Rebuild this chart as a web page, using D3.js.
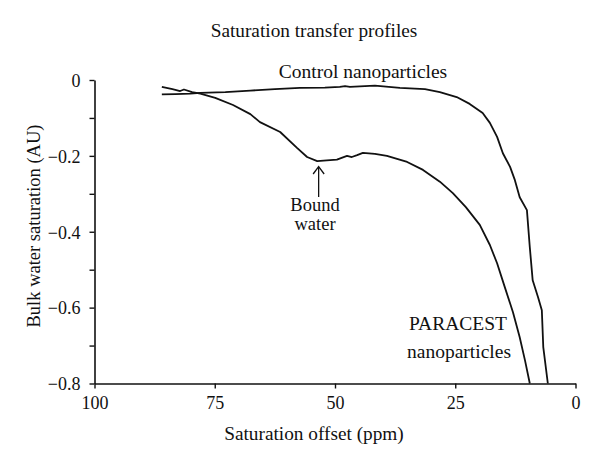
<!DOCTYPE html>
<html>
<head>
<meta charset="utf-8">
<script src="https://cdn.jsdelivr.net/npm/d3@7"></script>
<style>
  html, body { margin: 0; padding: 0; background: #fff; }
  svg text { font-family: "Liberation Serif", "Times New Roman", serif; fill: #111; }
</style>
</head>
<body>
<svg id="chart" width="600" height="466"></svg>
<script>
// ---- data ----
const title = "Saturation transfer profiles";
const xLabel = "Saturation offset (ppm)";
const yLabel = "Bulk water saturation (AU)";
const xTicks = [100, 75, 50, 25, 0];
const yMajorTicks = [0, -0.2, -0.4, -0.6, -0.8];
const yMinorTicks = [-0.1, -0.3, -0.5, -0.7];

const controlPpm = [86.0, 83.2, 80.1, 78.0, 72.8, 67.6, 62.5, 57.3, 52.1, 49.0, 47.9, 46.9, 41.7, 36.5, 31.3, 28.2, 24.7, 22.0, 19.3, 17.8, 16.3, 15.1, 13.6, 12.6, 11.6, 10.1, 9.5, 8.9, 7.8, 7.0, 6.7, 5.75];
const controlVal = [-0.038, -0.037, -0.036, -0.034, -0.032, -0.028, -0.024, -0.021, -0.020, -0.018, -0.016, -0.018, -0.015, -0.021, -0.024, -0.032, -0.045, -0.063, -0.087, -0.113, -0.150, -0.193, -0.229, -0.264, -0.309, -0.343, -0.441, -0.528, -0.572, -0.607, -0.704, -0.800];

const paracestPpm = [86.0, 83.8, 82.2, 81.4, 79.7, 78.0, 74.9, 71.2, 67.6, 65.6, 61.4, 57.9, 55.8, 53.7, 51.7, 49.6, 47.5, 46.5, 45.4, 44.2, 41.7, 39.2, 35.0, 31.7, 28.2, 25.5, 22.8, 19.9, 17.8, 16.3, 14.7, 13.0, 11.6, 10.5, 9.5];
const paracestVal = [-0.018, -0.024, -0.029, -0.025, -0.032, -0.036, -0.047, -0.066, -0.090, -0.111, -0.137, -0.179, -0.203, -0.214, -0.212, -0.210, -0.200, -0.203, -0.198, -0.192, -0.195, -0.200, -0.216, -0.237, -0.268, -0.298, -0.335, -0.382, -0.435, -0.483, -0.546, -0.612, -0.678, -0.739, -0.800];

const annotations = {
  control: "Control nanoparticles",
  bound: ["Bound", "water"],
  paracest: ["PARACEST", "nanoparticles"]
};

// ---- layout ----
const svg = d3.select("#chart");
const x = d3.scaleLinear().domain([100, 0]).range([94.5, 575.5]);
const y = d3.scaleLinear().domain([0, -0.8]).range([80, 383.5]);
const tickFs = 18;
const labelFs = 19.3;
const annFs = 19.5;

// title
svg.append("text").attr("x", 314).attr("y", 37).attr("text-anchor", "middle")
  .style("font-size", labelFs + "px").text(title);

// x axis
const xAxis = d3.axisBottom(x).tickValues(xTicks).tickSize(5).tickSizeOuter(0).tickFormat(d3.format("d"));
const gx = svg.append("g").attr("transform", `translate(0,${y(-0.8)})`).call(xAxis);
gx.select(".domain").attr("stroke", "#111").attr("stroke-width", 1.6);
gx.selectAll(".tick line").attr("stroke", "#111").attr("stroke-width", 1.4);
gx.selectAll(".tick text").attr("dy", null).attr("y", 25)
  .style("font-size", tickFs + "px").style("font-family", "Liberation Serif").attr("fill", "#111");

// y axis
const minus = v => v === 0 ? "0" : "\u2212" + d3.format(".1f")(-v);
const yAxis = d3.axisLeft(y).tickValues(yMajorTicks.concat(yMinorTicks)).tickSize(5).tickSizeOuter(0)
  .tickFormat(d => yMajorTicks.includes(d) ? minus(d) : "");
const gy = svg.append("g").attr("transform", `translate(${x(100)},0)`).call(yAxis);
gy.select(".domain").attr("stroke", "#111").attr("stroke-width", 1.6);
gy.selectAll(".tick line").attr("stroke", "#111").attr("stroke-width", 1.4);
gy.selectAll(".tick text").attr("x", -14).attr("dy", "0.35em")
  .style("font-size", tickFs + "px").style("font-family", "Liberation Serif").attr("fill", "#111");

// axis titles
svg.append("text").attr("x", 314).attr("y", 440).attr("text-anchor", "middle")
  .style("font-size", labelFs + "px").text(xLabel);
svg.append("text").attr("transform", "translate(40,226) rotate(-90)").attr("text-anchor", "middle")
  .style("font-size", "18.5px").text(yLabel);

// lines
const line = d3.line().x(d => x(d[0])).y(d => y(d[1]));
const controlData = controlPpm.map((p, i) => [p, controlVal[i]]);
const paracestData = paracestPpm.map((p, i) => [p, paracestVal[i]]);
svg.append("path").datum(controlData).attr("d", line)
  .attr("fill", "none").attr("stroke", "#111").attr("stroke-width", 1.8).attr("stroke-linejoin", "round");
svg.append("path").datum(paracestData).attr("d", line)
  .attr("fill", "none").attr("stroke", "#111").attr("stroke-width", 1.8).attr("stroke-linejoin", "round");

// annotations
svg.append("text").attr("x", 363).attr("y", 78).attr("text-anchor", "middle")
  .style("font-size", annFs + "px").text(annotations.control);
svg.append("text").attr("x", 315).attr("y", 211).attr("text-anchor", "middle")
  .style("font-size", "18.5px").text(annotations.bound[0]);
svg.append("text").attr("x", 315).attr("y", 230).attr("text-anchor", "middle")
  .style("font-size", "18.5px").text(annotations.bound[1]);
svg.append("text").attr("x", 458).attr("y", 330).attr("text-anchor", "middle")
  .style("font-size", annFs + "px").text(annotations.paracest[0]);
svg.append("text").attr("x", 459).attr("y", 358).attr("text-anchor", "middle")
  .style("font-size", annFs + "px").text(annotations.paracest[1]);

// arrow to bound water dip
const ax = x(53.4);
svg.append("line").attr("x1", ax).attr("x2", ax).attr("y1", 197).attr("y2", 167)
  .attr("stroke", "#111").attr("stroke-width", 1.3);
svg.append("path").attr("d", `M${ax - 5.5},${174} L${ax},${166.5} L${ax + 5.5},${174}`)
  .attr("fill", "none").attr("stroke", "#111").attr("stroke-width", 1.3);
</script>
</body>
</html>
